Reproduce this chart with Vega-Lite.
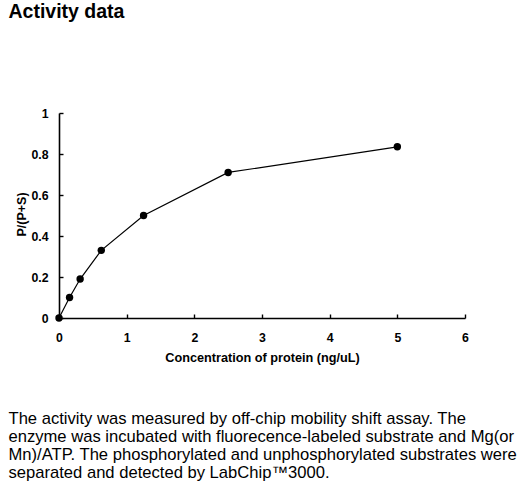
{
  "$schema": "https://vega.github.io/schema/vega-lite/v6.json",
  "width": 406,
  "height": 205,
  "autosize": "none",
  "padding": {"left": 59, "top": 113, "right": 59, "bottom": 170},
  "background": "white",
  "config": {"view": {"stroke": null}, "font": "Liberation Sans"},
  "data": {
    "values": [
      {"conc": 0, "ratio": 0},
      {"conc": 0.156, "ratio": 0.1},
      {"conc": 0.3125, "ratio": 0.19},
      {"conc": 0.625, "ratio": 0.33},
      {"conc": 1.25, "ratio": 0.5},
      {"conc": 2.5, "ratio": 0.71},
      {"conc": 5, "ratio": 0.835}
    ]
  },
  "layer": [
    {
      "mark": {"type": "line", "color": "black", "strokeWidth": 1.2},
      "encoding": {
        "x": {
          "field": "conc", "type": "quantitative",
          "scale": {"domain": [0, 6], "nice": false},
          "axis": {
            "title": "Concentration of protein (ng/uL)",
            "values": [0, 1, 2, 3, 4, 5, 6], "format": "d", "grid": false,
            "domainColor": "black", "domainWidth": 1.6,
            "tickColor": "black", "tickSize": -4, "tickWidth": 1.4,
            "labelFontSize": 12.3, "labelFontWeight": "bold", "labelColor": "black",
            "labelPadding": 17, "labelFlush": false,
            "titleFontSize": 12.7, "titleFontWeight": "bold", "titleColor": "black",
            "titleY": 43, "titleBaseline": "alphabetic"
          }
        },
        "y": {
          "field": "ratio", "type": "quantitative",
          "scale": {"domain": [0, 1], "nice": false},
          "axis": {
            "title": "P/(P+S)",
            "values": [0, 0.2, 0.4, 0.6, 0.8, 1], "format": ".1~f", "grid": false,
            "domainColor": "black", "domainWidth": 1.6,
            "tickColor": "black", "tickSize": -4, "tickWidth": 1.4,
            "labelFontSize": 12.3, "labelFontWeight": "bold", "labelColor": "black",
            "labelPadding": 15, "labelFlush": false,
            "titleFontSize": 12.5, "titleFontWeight": "bold", "titleColor": "black",
            "titleX": -38, "titleY": 101, "titleBaseline": "middle", "titleAngle": 270
          }
        }
      }
    },
    {
      "mark": {"type": "point", "filled": true, "color": "black", "size": 55, "opacity": 1},
      "encoding": {
        "x": {
          "field": "conc", "type": "quantitative",
          "scale": {"domain": [0, 6], "nice": false},
          "axis": {
            "orient": "top", "title": "Activity data",
            "domain": false, "ticks": false, "labels": false, "grid": false,
            "titleFontSize": 19.5, "titleFontWeight": "bold", "titleColor": "black",
            "titleX": -51, "titleY": -95.5, "titleAlign": "left", "titleBaseline": "alphabetic",
            "titleLimit": 600
          }
        },
        "y": {
          "field": "ratio", "type": "quantitative",
          "scale": {"domain": [0, 1], "nice": false},
          "axis": {
            "orient": "right",
            "title": [
              "The activity was measured by off-chip mobility shift assay. The",
              "enzyme was incubated with fluorecence-labeled  substrate and Mg(or",
              "Mn)/ATP. The phosphorylated and unphosphorylated substrates were",
              "separated and detected by LabChip™3000."
            ],
            "domain": false, "ticks": false, "labels": false, "grid": false,
            "titleFontSize": 16.6, "titleFontWeight": "normal", "titleColor": "black",
            "titleAngle": 0, "titleX": -457, "titleY": 310, "titleAlign": "left",
            "titleBaseline": "alphabetic", "titleLineHeight": 18.3, "titleLimit": 700
          }
        }
      }
    }
  ],
  "resolve": {"axis": {"x": "independent", "y": "independent"}}
}
